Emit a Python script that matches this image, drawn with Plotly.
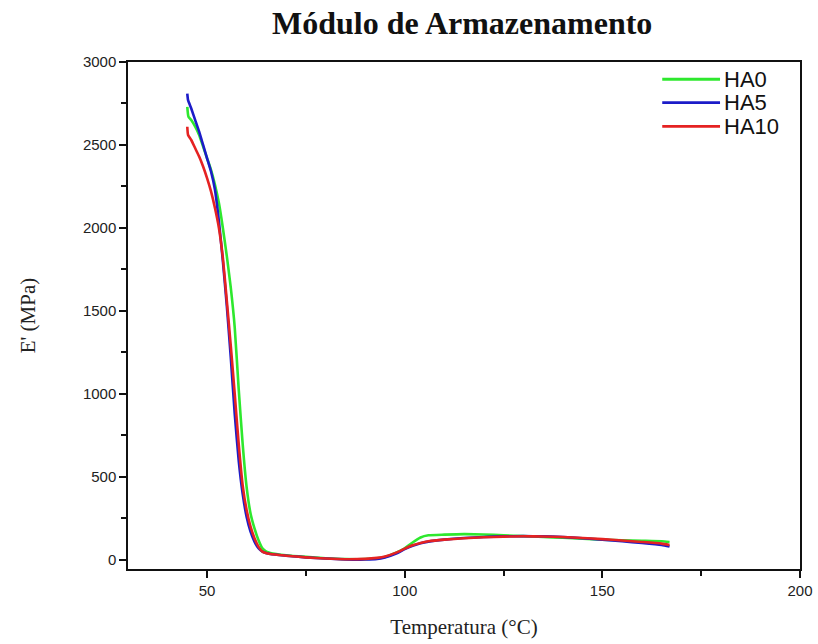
import plotly.graph_objects as go

# temperature (°C) and storage modulus E' (MPa)
t_ha0 = [45, 45.3, 46, 47, 48, 49, 50, 51, 52, 53, 54, 55, 56, 57, 58, 59, 60, 61, 62, 63, 64, 65,
         66, 70, 75, 80, 85, 90, 95, 98, 100, 102, 104, 106, 110, 115, 120, 125, 130, 135, 140,
         145, 150, 155, 160, 165, 167]
e_ha0 = [2730, 2670, 2650, 2610, 2560, 2490, 2420, 2350, 2260, 2150, 2000, 1830, 1640, 1400, 1030,
         700, 440, 280, 190, 120, 70, 50, 42, 28, 18, 10, 5, 5, 18, 45, 70, 105, 135, 148, 152, 155,
         153, 148, 143, 138, 133, 128, 122, 118, 115, 112, 108]

t_ha5 = [45, 45.2, 46, 47, 48, 49, 50, 51, 52, 53, 54, 55, 56, 57, 58, 59, 60, 61, 62, 63, 64, 66,
         70, 75, 80, 85, 90, 93, 95, 98, 100, 102, 104, 106, 110, 115, 120, 125, 130, 135, 140,
         145, 150, 155, 160, 165, 167]
e_ha5 = [2810, 2770, 2720, 2650, 2580, 2500, 2420, 2340, 2230, 2040, 1800, 1530, 1220, 880, 600,
         400, 260, 170, 110, 70, 50, 35, 25, 15, 8, 3, 2, 5, 15, 40, 65, 85, 100, 110, 122, 132,
         138, 142, 143, 142, 138, 130, 122, 112, 102, 90, 80]

t_ha10 = [45, 45.2, 46, 47, 48, 49, 50, 51, 52, 53, 54, 55, 56, 57, 58, 59, 60, 61, 62, 63, 64, 66,
          70, 75, 80, 85, 90, 93, 95, 98, 100, 102, 104, 106, 110, 115, 120, 125, 130, 135, 140,
          145, 150, 155, 160, 165, 167]
e_ha10 = [2610, 2560, 2530, 2480, 2430, 2370, 2300, 2220, 2120, 2000, 1820, 1560, 1290, 1000, 700,
          450, 300, 200, 130, 80, 50, 35, 25, 15, 8, 4, 6, 12, 20, 45, 68, 88, 102, 112, 122, 130,
          136, 140, 142, 141, 138, 132, 125, 117, 108, 98, 90]

series = [
    ("HA0", t_ha0, e_ha0, "#2ee82e"),
    ("HA5", t_ha5, e_ha5, "#1c1cc8"),
    ("HA10", t_ha10, e_ha10, "#e52222"),
]

fig = go.Figure()
for name, t, e, color in series:
    fig.add_trace(go.Scatter(x=t, y=e, mode="lines", name=name, showlegend=False,
                             line=dict(color=color, width=2.6, shape="spline", smoothing=0.5)))

# hand-drawn legend (long line samples as in the original)
leg_y = [0.966, 0.920, 0.873]
for (name, _, _, color), ly in zip(series, leg_y):
    fig.add_shape(type="line", xref="paper", yref="paper", x0=0.795, x1=0.881, y0=ly, y1=ly,
                  line=dict(color=color, width=2.8))
    fig.add_annotation(xref="paper", yref="paper", x=0.884, y=ly, text=name, showarrow=False,
                       xanchor="left", yanchor="middle",
                       font=dict(family="Liberation Sans, Arial", size=22, color="#111"))

axis_common = dict(
    showgrid=False, zeroline=False, automargin=False,
    showline=True, linecolor="#111", linewidth=1.5, mirror=True,
    ticks="outside", ticklen=7, tickwidth=1.5, tickcolor="#111",
    tickfont=dict(family="Liberation Sans, Arial", size=15, color="#222"),
)

serif = "Liberation Serif, Times New Roman"

fig.update_layout(
    width=818, height=644,
    paper_bgcolor="white", plot_bgcolor="white",
    margin=dict(l=128, r=18, t=62, b=75),
    title=dict(text="<b>Módulo de Armazenamento</b>", x=0.565, xanchor="center",
               y=0.965, yanchor="middle",
               font=dict(family=serif, size=32, color="#111")),
    xaxis=dict(axis_common, range=[30, 200], tickvals=[50, 100, 150, 200],
               minor=dict(tickvals=[75, 125, 175], ticks="outside", ticklen=5, tickcolor="#111"),
               title=dict(text="Temperatura (°C)", standoff=22,
                          font=dict(family=serif, size=21, color="#222"))),
    yaxis=dict(axis_common, range=[-55, 3000], tickvals=[0, 500, 1000, 1500, 2000, 2500, 3000],
               minor=dict(tickvals=[250, 750, 1250, 1750, 2250, 2750], ticks="outside",
                          ticklen=5, tickcolor="#111"),
               title=dict(text="E' (MPa)", standoff=42,
                          font=dict(family=serif, size=21, color="#222"))),
)

# drop the default 8px page margin so the figure fills the window exactly
fig.write_html("out.html", config={"displayModeBar": False},
               post_script="document.body.style.margin='0px';")
